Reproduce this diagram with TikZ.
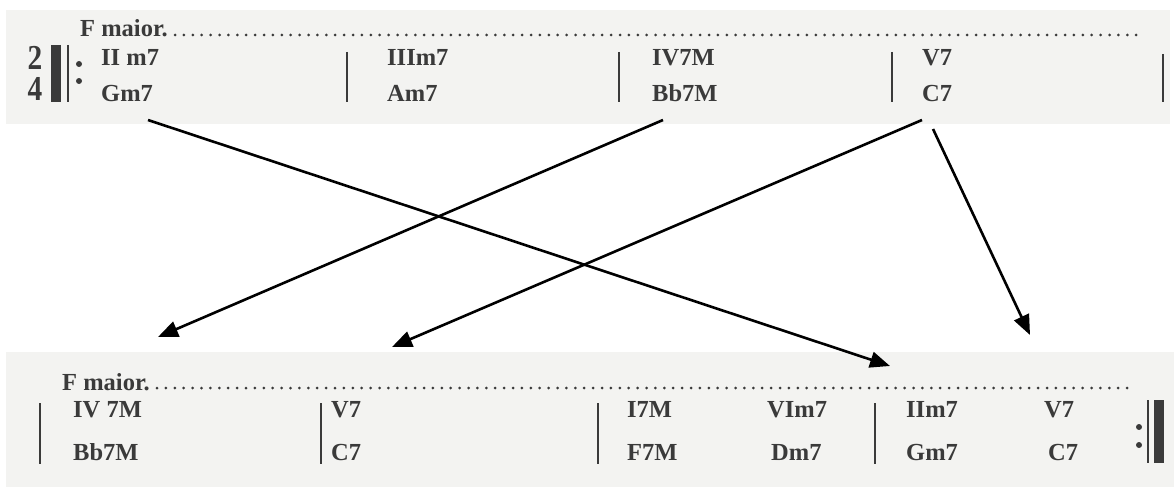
\documentclass[tikz,border=0pt]{standalone}
\usepackage{fontspec}
\setmainfont{Liberation Serif}
\usetikzlibrary{arrows.meta}
\definecolor{ink}{HTML}{3A3A3A}
\definecolor{band}{HTML}{F3F3F1}
\begin{document}
\begin{tikzpicture}[x=1pt,y=-1pt,
  chord/.style={anchor=base west, inner sep=0pt, font=\fontsize{24.5}{24.5}\selectfont\bfseries, text=ink},
  tsig/.style={anchor=base, inner sep=0pt, font=\fontsize{28}{28}\selectfont\bfseries, text=ink},
  bar/.style={line width=2.2pt, draw=ink},
  thickbar/.style={line width=10pt, draw=ink},
  leader/.style={draw=ink, line width=3pt, line cap=round, dash pattern=on 0pt off 8.9pt},
  rdot/.style={circle, fill=ink, inner sep=0pt, minimum size=6pt},
  arr/.style={line width=2.6pt, -{Triangle[length=20pt,width=16pt]}}]
\useasboundingbox (0,0) rectangle (1174,487);
\fill[white] (0,0) rectangle (1174,487);
\fill[band] (6,10) rectangle (1170,124);
\fill[band] (6,352) rectangle (1174,487);

% ---------- top staff ----------
\node[chord] (tkey) at (80,37) {F maior.};
\draw[leader] (175,35) -- (1143,35);
\node[tsig] (t2) at (35,70) {\scalebox{1.05}[1.25]{2}};
\node[tsig] (t4) at (35,100) {\scalebox{1.05}[1.25]{4}};
\draw[thickbar] (55.5,45) -- (55.5,102);
\draw[bar] (68,45) -- (68,102);
\node[rdot] (td1) at (79,64) {};
\node[rdot] (td2) at (79,81) {};
\node[chord] (t1a) at (101,66) {II m7};
\node[chord] (t1b) at (101,101) {Gm7};
\draw[bar] (347,52) -- (347,102);
\node[chord] (t2a) at (387,66) {IIIm7};
\node[chord] (t2b) at (387,101) {Am7};
\draw[bar] (619,52) -- (619,102);
\node[chord] (t3a) at (652,66) {IV7M};
\node[chord] (t3b) at (652,101) {Bb7M};
\draw[bar] (892,52) -- (892,102);
\node[chord] (t4a) at (922,66) {V7};
\node[chord] (t4b) at (922,101) {C7};
\draw[bar] (1163,54) -- (1163,102);

% ---------- bottom staff ----------
\node[chord] (bkey) at (62,390) {F maior.};
\draw[leader] (157,388) -- (1130,388);
\draw[bar] (40,403) -- (40,464);
\node[chord] (b1a) at (73,417) {IV 7M};
\node[chord] (b1b) at (73,460) {Bb7M};
\draw[bar] (321,403) -- (321,464);
\node[chord] (b2a) at (331,417) {V7};
\node[chord] (b2b) at (331,460) {C7};
\draw[bar] (598,403) -- (598,464);
\node[chord] (b3a) at (627,417) {I7M};
\node[chord] (b3b) at (627,460) {F7M};
\node[chord] (b4a) at (767,417) {VIm7};
\node[chord] (b4b) at (771,460) {Dm7};
\draw[bar] (875,403) -- (875,464);
\node[chord] (b5a) at (906,417) {IIm7};
\node[chord] (b5b) at (906,460) {Gm7};
\node[chord] (b6a) at (1044,417) {V7};
\node[chord] (b6b) at (1048,460) {C7};
\node[rdot] (bd1) at (1139,427) {};
\node[rdot] (bd2) at (1139,445) {};
\draw[bar] (1148,400) -- (1148,463);
\draw[thickbar] (1159,400) -- (1159,463);

% ---------- arrows ----------
\coordinate (s1) at (148,120);
\coordinate (e1) at (890,366);
\coordinate (s2) at (663,120);
\coordinate (e2) at (158,337);
\coordinate (s3) at (922,120);
\coordinate (e3) at (392,347);
\coordinate (s4) at (933,129);
\coordinate (e4) at (1030,335);
\draw[arr] (s1) -- (e1);
\draw[arr] (s2) -- (e2);
\draw[arr] (s3) -- (e3);
\draw[arr] (s4) -- (e4);
\end{tikzpicture}
\end{document}
